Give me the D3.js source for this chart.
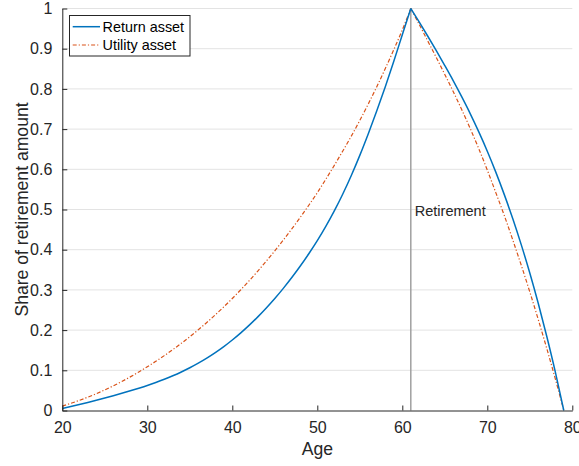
<!DOCTYPE html>
<html>
<head>
<meta charset="utf-8">
<script src="https://cdn.jsdelivr.net/npm/d3@7/dist/d3.min.js"></script>
<style>
  html, body { margin: 0; padding: 0; background: #fff; }
  svg { display: block; font-family: "Liberation Sans", Arial, Helvetica, sans-serif; }
</style>
</head>
<body>
<svg id="chart" width="579" height="466"></svg>
<script>
// Ages covered by the saving (accumulation) and spending (decumulation) phases
const agesUp = d3.range(20, 62);          // 20 .. 61
const agesDown = d3.range(61, 80);        // 61 .. 79

// Share of the retirement amount held, return-oriented asset
const returnUp = [
  0.0050, 0.0098, 0.0148, 0.0200, 0.0254, 0.0310, 0.0368, 0.0428, 0.0490, 0.0555,
  0.0623, 0.0697, 0.0777, 0.0864, 0.0959, 0.1063, 0.1177, 0.1302, 0.1439, 0.1589,
  0.1753, 0.1931, 0.2123, 0.2329, 0.2550, 0.2786, 0.3038, 0.3307, 0.3594, 0.3900,
  0.4226, 0.4581, 0.4966, 0.5386, 0.5846, 0.6346, 0.6886, 0.7456, 0.8056, 0.8686,
  0.9346, 1.0000
];
const returnDown = [
  1.000, 0.966, 0.931, 0.895, 0.858, 0.820, 0.780, 0.738, 0.693, 0.645,
  0.593, 0.537, 0.477, 0.412, 0.342, 0.266, 0.184, 0.096, 0.000
];

// Share of the retirement amount held, utility-oriented asset
const utilityUp = [
  0.0110, 0.0178, 0.0252, 0.0332, 0.0419, 0.0513, 0.0614, 0.0722, 0.0837, 0.0959,
  0.1088, 0.1223, 0.1365, 0.1514, 0.1671, 0.1836, 0.2009, 0.2190, 0.2380, 0.2579,
  0.2787, 0.3004, 0.3231, 0.3468, 0.3715, 0.3972, 0.4239, 0.4517, 0.4806, 0.5106,
  0.5418, 0.5752, 0.6098, 0.6456, 0.6826, 0.7216, 0.7626, 0.8056, 0.8506, 0.8976,
  0.9466, 1.0000
];
const utilityDown = [
  1.000, 0.960, 0.919, 0.878, 0.836, 0.793, 0.748, 0.701, 0.651, 0.598,
  0.542, 0.485, 0.424, 0.361, 0.295, 0.226, 0.154, 0.079, 0.000
];

const xTicks = [20, 30, 40, 50, 60, 70, 80];
const yTicks = [0, 0.1, 0.2, 0.3, 0.4, 0.5, 0.6, 0.7, 0.8, 0.9, 1];
const retirementAge = 61;

const seriesNames = ["Return asset", "Utility asset"];
const seriesColors = ["#0072BD", "#D95319"];

const svg = d3.select("#chart");
const ink = "#262626";

const x = d3.scaleLinear().domain([20, 80]).range([62.3, 572.3]);
const y = d3.scaleLinear().domain([0, 1]).range([410.5, 8.5]);

// horizontal grid
svg.append("g")
  .selectAll("line")
  .data(yTicks.filter(d => d > 0))
  .join("line")
  .attr("x1", x(20)).attr("x2", x(80))
  .attr("y1", d => y(d)).attr("y2", d => y(d))
  .attr("stroke", "#e3e3e3")
  .attr("stroke-width", 1);

// retirement marker
svg.append("line")
  .attr("x1", x(retirementAge)).attr("x2", x(retirementAge))
  .attr("y1", y(1)).attr("y2", y(0))
  .attr("stroke", "#a0a0a0")
  .attr("stroke-width", 1.5);

svg.append("text")
  .attr("x", x(retirementAge) + 4)
  .attr("y", y(0.5) + 6)
  .attr("font-size", 14.5)
  .attr("fill", ink)
  .text("Retirement");

// curves: each phase is drawn as its own smooth segment so the peak stays sharp
const line = d3.line().x(d => x(d[0])).y(d => y(d[1])).curve(d3.curveMonotoneX);
const series = [
  { up: returnUp, down: returnDown, dash: null, width: 1.5 },
  { up: utilityUp, down: utilityDown, dash: "4,2,1.2,2", width: 1.2 }
];

[1, 0].forEach(k => {
  const s = series[k];
  const segs = [
    agesUp.map((a, i) => [a, s.up[i]]),
    agesDown.map((a, i) => [a, s.down[i]])
  ];
  segs.forEach(seg => {
    svg.append("path")
      .attr("d", line(seg))
      .attr("fill", "none")
      .attr("stroke", seriesColors[k])
      .attr("stroke-width", s.width)
      .attr("stroke-dasharray", s.dash);
  });
});

// axes
const xAxis = d3.axisBottom(x).tickValues(xTicks).tickSizeInner(-5).tickSizeOuter(0).tickPadding(11);
const yAxis = d3.axisLeft(y).tickValues(yTicks).tickSizeInner(-5).tickSizeOuter(0).tickPadding(10)
  .tickFormat(d => d3.format("~g")(d));

const gx = svg.append("g").attr("transform", `translate(0,${y(0)})`).call(xAxis);
const gy = svg.append("g").attr("transform", `translate(${x(20)},0)`).call(yAxis);

[gx, gy].forEach(g => {
  g.select(".domain").attr("stroke", ink).attr("stroke-width", 1);
  g.selectAll(".tick line").attr("stroke", ink).attr("stroke-width", 1);
  g.selectAll(".tick text")
    .attr("fill", ink)
    .attr("font-size", 16)
    .attr("font-family", "Liberation Sans, Arial, sans-serif");
});
gx.selectAll(".tick text").attr("dy", "0.71em");

// axis titles
svg.append("text")
  .attr("x", (x(20) + x(80)) / 2)
  .attr("y", 455)
  .attr("text-anchor", "middle")
  .attr("font-size", 17.6)
  .attr("fill", ink)
  .text("Age");

svg.append("text")
  .attr("transform", `translate(28,${(y(0) + y(1)) / 2}) rotate(-90)`)
  .attr("text-anchor", "middle")
  .attr("font-size", 17.6)
  .attr("fill", ink)
  .text("Share of retirement amount");

// legend
const legend = svg.append("g");
legend.append("rect")
  .attr("x", 69.5).attr("y", 15.5)
  .attr("width", 120.5).attr("height", 40.5)
  .attr("fill", "#fff")
  .attr("stroke", ink)
  .attr("stroke-width", 1);

seriesNames.forEach((name, i) => {
  const cy = 26.7 + i * 18.3;
  legend.append("line")
    .attr("x1", 72.7).attr("x2", 100)
    .attr("y1", cy).attr("y2", cy)
    .attr("stroke", seriesColors[i])
    .attr("stroke-width", series[i].width)
    .attr("stroke-dasharray", series[i].dash);
  legend.append("text")
    .attr("x", 102.5)
    .attr("y", cy + 5)
    .attr("font-size", 14.4)
    .attr("fill", "#000")
    .text(name);
});
</script>
</body>
</html>
